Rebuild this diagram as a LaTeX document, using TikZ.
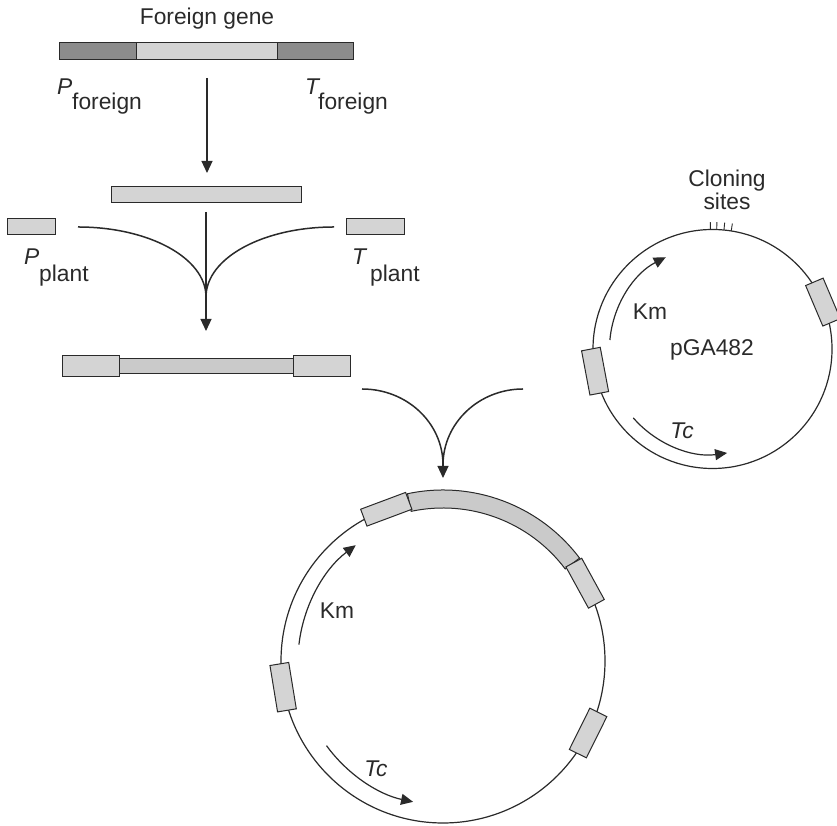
\documentclass[tikz,border=0pt]{standalone}
\usepackage{fontspec}
\setmainfont{Liberation Sans}
\usetikzlibrary{arrows.meta,calc}
\definecolor{darkfill}{HTML}{8C8C8C}
\definecolor{lightfill}{HTML}{D4D4D4}
\definecolor{midfill}{HTML}{CACACA}
\definecolor{ink}{HTML}{2A2A2A}
\begin{document}
\begin{tikzpicture}[x=1pt,y=1pt,
  lbl/.style={font=\fontsize{22.8}{26}\selectfont, inner sep=0pt, text=ink},
  boxbase/.style={draw=ink, line width=1pt, inner sep=0pt, outer sep=0pt},
  dbox/.style={boxbase, fill=darkfill},
  lbox/.style={boxbase, fill=lightfill},
  mbox/.style={boxbase, fill=midfill},
  arr/.style={draw=ink, line width=1.2pt, -{Triangle[length=12pt,width=11pt]}},
  vcurve/.style={draw=ink, line width=1.5pt},
  ring/.style={draw=ink, line width=1.2pt},
  tick/.style={draw=ink, line width=0.9pt}
]
\useasboundingbox (0,0) rectangle (837,826);

% ---------- foreign gene ----------
\node[lbl] (fg) at (207,807) {Foreign gene};
\node[dbox, anchor=south west, minimum width=77, minimum height=17] (fpl) at (59,766) {};
\node[lbox, anchor=south west, minimum width=141, minimum height=17] (fgene) at (136,766) {};
\node[dbox, anchor=south west, minimum width=76, minimum height=17] (fpr) at (277,766) {};
\node[lbl, anchor=base west] (pf) at (57,731) {\textit{P}};
\node[lbl, anchor=base west] (pfs) at (72,716) {foreign};
\node[lbl, anchor=base west] (tf) at (305,731) {\textit{T}};
\node[lbl, anchor=base west] (tfs) at (318,716) {foreign};

\coordinate (a1s) at (207,748);
\coordinate (a1e) at (207,653);
\draw[arr] (a1s) -- (a1e);

% ---------- gene + plant promoter/terminator ----------
\node[lbox, anchor=south west, minimum width=190, minimum height=16] (gene2) at (111,623) {};
\node[lbox, anchor=south west, minimum width=48, minimum height=16] (pp) at (7,591) {};
\node[lbox, anchor=south west, minimum width=58, minimum height=16] (tp) at (346,591) {};
\node[lbl, anchor=base west] (ppl) at (24,561) {\textit{P}};
\node[lbl, anchor=base west] (pps) at (39,544) {plant};
\node[lbl, anchor=base west] (tpl) at (352,561) {\textit{T}};
\node[lbl, anchor=base west] (tps) at (370,544) {plant};

\coordinate (v1l) at (78,599);
\coordinate (v1r) at (334,599);
\coordinate (v1c) at (206,529);
\draw[vcurve] (v1l) .. controls (149,599) and (206,568) .. (v1c);
\draw[vcurve] (v1r) .. controls (263,599) and (206,568) .. (v1c);
\coordinate (a2s) at (206,614);
\coordinate (a2e) at (206,495);
\draw[arr] (a2s) -- (a2e);

% ---------- chimeric gene ----------
\node[mbox, anchor=south west, minimum width=174, minimum height=15] (chim) at (119,452) {};
\node[lbox, anchor=south west, minimum width=57, minimum height=21] (cpl) at (62,449) {};
\node[lbox, anchor=south west, minimum width=57, minimum height=21] (cpr) at (293,449) {};

\coordinate (v2l) at (362,437);
\coordinate (v2r) at (523,437);
\coordinate (v2c) at (443,361);
\draw[vcurve] (v2l) .. controls (407,437) and (443,403) .. (v2c);
\draw[vcurve] (v2r) .. controls (479,437) and (443,403) .. (v2c);
\coordinate (a3s) at (443,372);
\coordinate (a3e) at (443,348);
\draw[arr] (a3s) -- (a3e);

% ---------- pGA482 ----------
\coordinate (S) at (712.5,477);
\draw[ring] (S) circle[radius=119.5];
\foreach \a in {91,88,84.5,81}
  \draw[tick] ($(S)+(\a:119.5)$) -- ($(S)+(\a:127)$);
\node[lbl, align=center, font=\fontsize{22.8}{23}\selectfont] (cs) at (727,636) {Cloning\\sites};
\node[lbox, minimum width=44, minimum height=19, rotate=23-90] (sbr) at ($(S)+(23:120)$) {};
\node[lbox, minimum width=45, minimum height=19, rotate=190.7-90] (sbl) at ($(S)+(190.7:119.5)$) {};
\draw[arr] ($(S)+(175:103)$) arc[start angle=175, end angle=117, radius=103];
\draw[arr] ($(S)+(221:105)$) arc[start angle=221, end angle=278, radius=105];
\node[lbl] (skm) at (650,514) {Km};
\node[lbl] (spga) at (712,476) {pGA482};
\node[lbl] (stc) at (682,395) {\textit{Tc}};

% ---------- recombinant plasmid ----------
\coordinate (C) at (443,165);
\draw[ring] (C) circle[radius=162];
\draw[boxbase, fill=midfill] ($(C)+(37:153)$) arc[start angle=37, end angle=102, radius=153]
  -- ($(C)+(102:171)$) arc[start angle=102, end angle=37, radius=171] -- cycle;
\node[lbox, minimum width=48, minimum height=18, rotate=110.5-90] (btl) at ($(C)+(110.5:162)$) {};
\node[lbox, minimum width=47, minimum height=18, rotate=28.7-90] (btr) at ($(C)+(28.7:162)$) {};
\node[lbox, minimum width=46, minimum height=19, rotate=-26.4-90] (bbr) at ($(C)+(-26.4:162)$) {};
\node[lbox, minimum width=47, minimum height=19, rotate=189.3-90] (bl) at ($(C)+(189.3:162)$) {};
\draw[arr] ($(C)+(173.5:145)$) arc[start angle=173.5, end angle=127, radius=145];
\draw[arr] ($(C)+(216:144)$) arc[start angle=216, end angle=258, radius=144];
\node[lbl] (bkm) at (337,215) {Km};
\node[lbl] (btc) at (376,57) {\textit{Tc}};
\end{tikzpicture}
\end{document}
